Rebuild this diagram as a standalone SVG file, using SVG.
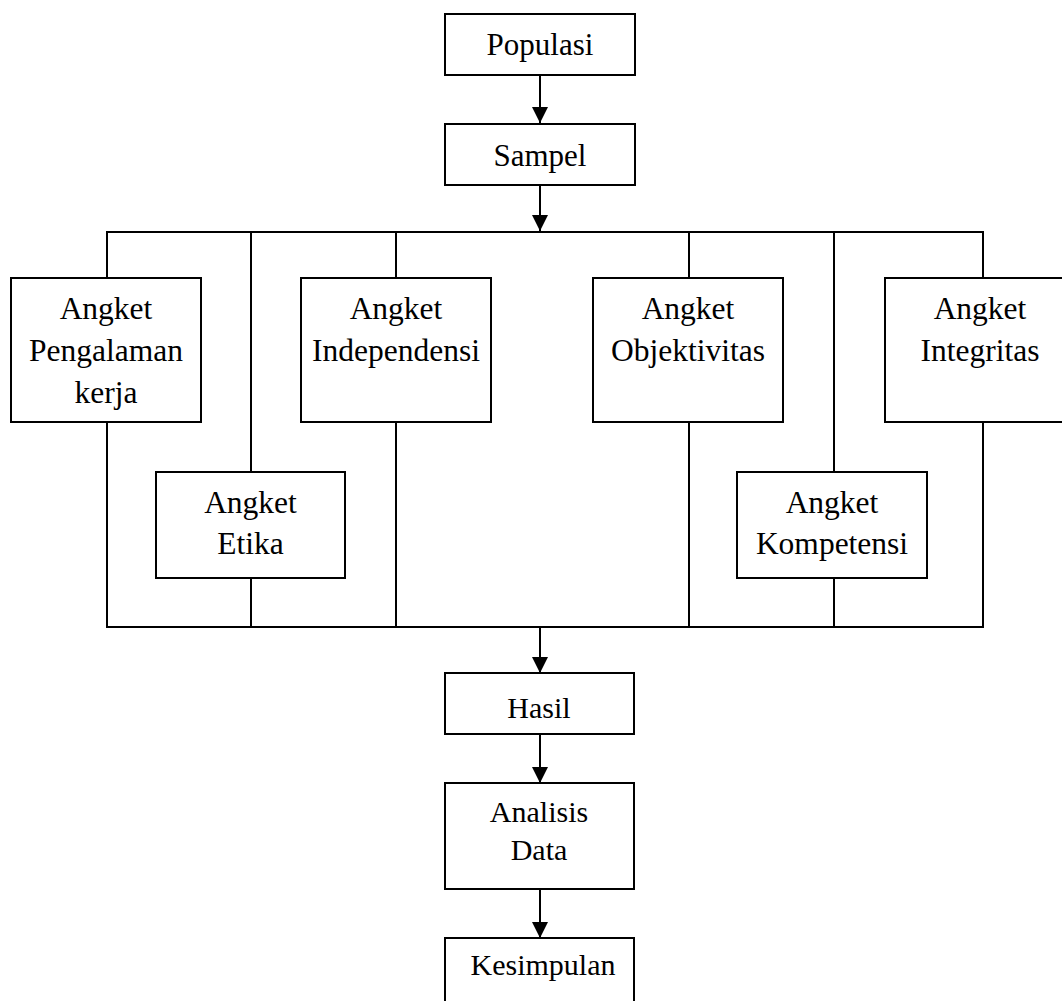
<svg xmlns="http://www.w3.org/2000/svg" width="1062" height="1001" viewBox="0 0 1062 1001">
<defs>
<style>
.box{fill:#fff;stroke:#000;stroke-width:2}
.ln{fill:none;stroke:#000;stroke-width:2}
text{font-family:"Liberation Serif","Times New Roman",serif;fill:#000;text-anchor:middle}
.t1{font-size:31px}
.t2{font-size:31.5px}
.t3{font-size:30px}
</style>
<marker id="arr" viewBox="0 0 16 16" markerWidth="16" markerHeight="16" refX="16" refY="8" orient="auto" markerUnits="userSpaceOnUse">
<path d="M0,0 L16,8 L0,16 Z" fill="#000"/>
</marker>
</defs>
<rect width="1062" height="1001" fill="#fff"/>
<g id="connectors">
<line class="ln" x1="540" y1="75" x2="540" y2="123" marker-end="url(#arr)"/>
<line class="ln" x1="540" y1="185" x2="540" y2="231" marker-end="url(#arr)"/>
<polyline class="ln" points="107,278 107,232 983,232 983,278"/>
<line class="ln" x1="251" y1="232" x2="251" y2="472"/>
<line class="ln" x1="396" y1="232" x2="396" y2="278"/>
<line class="ln" x1="689" y1="232" x2="689" y2="278"/>
<line class="ln" x1="834" y1="232" x2="834" y2="472"/>
<polyline class="ln" points="107,422 107,627 983,627 983,422"/>
<line class="ln" x1="251" y1="578" x2="251" y2="627"/>
<line class="ln" x1="396" y1="422" x2="396" y2="627"/>
<line class="ln" x1="689" y1="422" x2="689" y2="627"/>
<line class="ln" x1="834" y1="578" x2="834" y2="627"/>
<line class="ln" x1="540" y1="627" x2="540" y2="673" marker-end="url(#arr)"/>
<line class="ln" x1="540" y1="734" x2="540" y2="783" marker-end="url(#arr)"/>
<line class="ln" x1="540" y1="889" x2="540" y2="938" marker-end="url(#arr)"/>
</g>
<g id="populasi"><rect class="box" x="445" y="14" width="190" height="61"/><text class="t1" x="540" y="55">Populasi</text></g>
<g id="sampel"><rect class="box" x="445" y="124" width="190" height="61"/><text class="t1" x="540" y="166">Sampel</text></g>
<g id="pengalaman"><rect class="box" x="11" y="278" width="190" height="144"/><text class="t2" x="106" y="319">Angket</text><text class="t2" x="106" y="361">Pengalaman</text><text class="t2" x="106" y="403">kerja</text></g>
<g id="etika"><rect class="box" x="156" y="472" width="189" height="106"/><text class="t2" x="250.5" y="513">Angket</text><text class="t2" x="250.5" y="554">Etika</text></g>
<g id="independensi"><rect class="box" x="301" y="278" width="190" height="144"/><text class="t2" x="396" y="319">Angket</text><text class="t2" x="396" y="361">Independensi</text></g>
<g id="objektivitas"><rect class="box" x="593" y="278" width="190" height="144"/><text class="t2" x="688" y="319">Angket</text><text class="t2" x="688" y="361">Objektivitas</text></g>
<g id="kompetensi"><rect class="box" x="737" y="472" width="190" height="106"/><text class="t2" x="832" y="513">Angket</text><text class="t2" x="832" y="554">Kompetensi</text></g>
<g id="integritas"><rect class="box" x="885" y="278" width="190" height="144"/><text class="t2" x="980" y="319">Angket</text><text class="t2" x="980" y="361">Integritas</text></g>
<g id="hasil"><rect class="box" x="445" y="673" width="189" height="61"/><text class="t3" x="539" y="718">Hasil</text></g>
<g id="analisis"><rect class="box" x="445" y="783" width="189" height="106"/><text class="t3" x="539" y="822">Analisis</text><text class="t3" x="539" y="860">Data</text></g>
<g id="kesimpulan"><rect class="box" x="445" y="938" width="189" height="80"/><text class="t3" x="543" y="975">Kesimpulan</text></g>
</svg>
